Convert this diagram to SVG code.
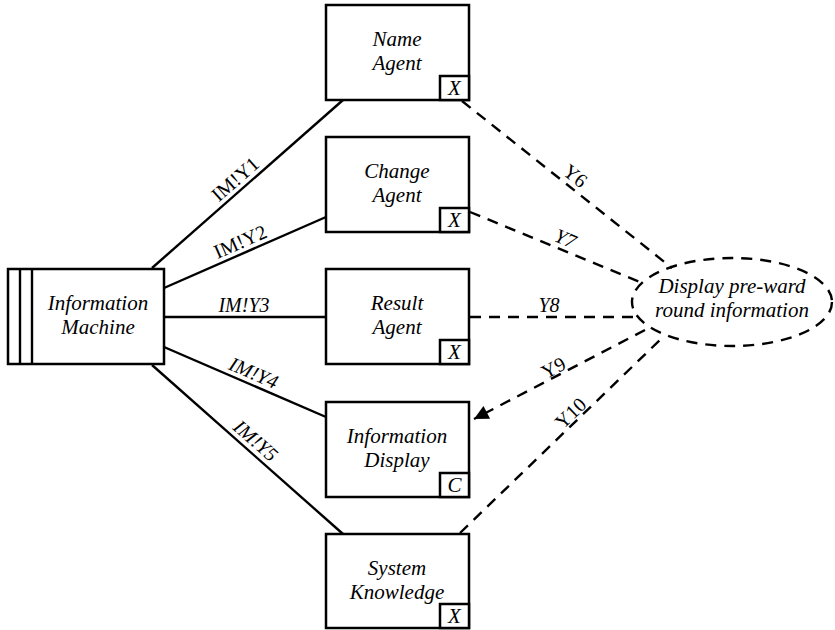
<svg xmlns="http://www.w3.org/2000/svg" width="835" height="630" viewBox="0 0 835 630">
<style>
  .box { fill: #fff; stroke: #000; stroke-width: 2.5; }
  .tag { fill: #fff; stroke: #000; stroke-width: 2.5; }
  .t { font-family: "Liberation Serif", "Times New Roman", serif; font-style: italic; font-size: 21px; text-anchor: middle; fill: #000; }
  .lbl { font-family: "Liberation Serif", "Times New Roman", serif; font-size: 20px; text-anchor: middle; fill: #000; }
  .it { font-style: italic; }
  .ln { stroke: #000; stroke-width: 2.4; fill: none; }
  .dash { stroke: #000; stroke-width: 2.4; fill: none; stroke-dasharray: 11 8; }
</style>
<defs>
  <marker id="arr" viewBox="0 0 10 10" refX="10" refY="5" markerWidth="7.5" markerHeight="6" orient="auto" markerUnits="strokeWidth">
    <path d="M0,0 L10,5 L0,10 z" fill="#000"/>
  </marker>
</defs>
<g id="connectors">
  <line class="ln" x1="152" y1="268" x2="343" y2="100"/>
  <line class="ln" x1="164" y1="288" x2="326" y2="217"/>
  <line class="ln" x1="164" y1="317" x2="326" y2="317"/>
  <line class="ln" x1="164" y1="347" x2="326" y2="417"/>
  <line class="ln" x1="152" y1="365" x2="343" y2="534"/>
  <line class="dash" x1="462" y1="101" x2="672" y2="268"/>
  <line class="dash" x1="470" y1="212" x2="640" y2="282"/>
  <line class="dash" x1="470" y1="317" x2="636" y2="317"/>
  <line class="dash" x1="645" y1="330" x2="474" y2="419" marker-end="url(#arr)"/>
  <line class="dash" x1="460" y1="533" x2="662" y2="338"/>
  <g transform="translate(243,188) rotate(-41.3)"><text class="lbl" x="0" y="-5">IM!Y1</text></g>
  <g transform="translate(245,252.5) rotate(-23.7)"><text class="lbl" x="0" y="-5">IM!Y2</text></g>
  <text class="lbl it" x="244" y="312">IM!Y3</text>
  <g transform="translate(249,383.7) rotate(23.4)"><text class="lbl it" x="0" y="-5">IM!Y4</text></g>
  <g transform="translate(248,449.4) rotate(41.3)"><text class="lbl it" x="0" y="-5">IM!Y5</text></g>
  <g transform="translate(568,185) rotate(38.5)"><text class="lbl" x="0" y="-5">Y6</text></g>
  <g transform="translate(561,249.5) rotate(22.4)"><text class="lbl it" x="0" y="-5">Y7</text></g>
  <text class="lbl it" x="549" y="312">Y8</text>
  <g transform="translate(558,376.5) rotate(-27.5)"><text class="lbl" x="0" y="-3">Y9</text></g>
  <g transform="translate(578,421) rotate(-43.7)"><text class="lbl" x="0" y="-4">Y10</text></g>
</g>
<g id="information-machine">
  <rect class="box" x="8" y="269" width="156" height="95"/>
  <line class="ln" x1="20" y1="269" x2="20" y2="364" stroke-width="2.5"/>
  <line class="ln" x1="32" y1="269" x2="32" y2="364" stroke-width="2.5"/>
  <text class="t" x="98" y="310">Information</text>
  <text class="t" x="98" y="334">Machine</text>
</g>
<g id="name-agent">
  <rect class="box" x="326" y="5" width="143" height="95"/>
  <text class="t" x="397" y="46">Name</text>
  <text class="t" x="397" y="70">Agent</text>
  <rect class="tag" x="440" y="76" width="29" height="24"/>
  <text class="t" x="454.5" y="95">X</text>
</g>
<g id="change-agent">
  <rect class="box" x="326" y="137" width="143" height="95"/>
  <text class="t" x="397" y="178">Change</text>
  <text class="t" x="397" y="202">Agent</text>
  <rect class="tag" x="440" y="208" width="29" height="24"/>
  <text class="t" x="454.5" y="227">X</text>
</g>
<g id="result-agent">
  <rect class="box" x="326" y="269" width="143" height="95"/>
  <text class="t" x="397" y="310">Result</text>
  <text class="t" x="397" y="334">Agent</text>
  <rect class="tag" x="440" y="340" width="29" height="24"/>
  <text class="t" x="454.5" y="359">X</text>
</g>
<g id="information-display">
  <rect class="box" x="326" y="402" width="143" height="95"/>
  <text class="t" x="397" y="443">Information</text>
  <text class="t" x="397" y="467">Display</text>
  <rect class="tag" x="440" y="473" width="29" height="24"/>
  <text class="t" x="454.5" y="492">C</text>
</g>
<g id="system-knowledge">
  <rect class="box" x="326" y="534" width="143" height="94"/>
  <text class="t" x="397" y="575">System</text>
  <text class="t" x="397" y="599">Knowledge</text>
  <rect class="tag" x="440" y="604" width="29" height="24"/>
  <text class="t" x="454.5" y="623">X</text>
</g>
<g id="display-pre-ward">
  <ellipse cx="732" cy="302" rx="100" ry="44" fill="none" stroke="#000" stroke-width="2.4" stroke-dasharray="11 8"/>
  <text class="t" x="732" y="293">Display pre-ward</text>
  <text class="t" x="732" y="317">round information</text>
</g>
</svg>
